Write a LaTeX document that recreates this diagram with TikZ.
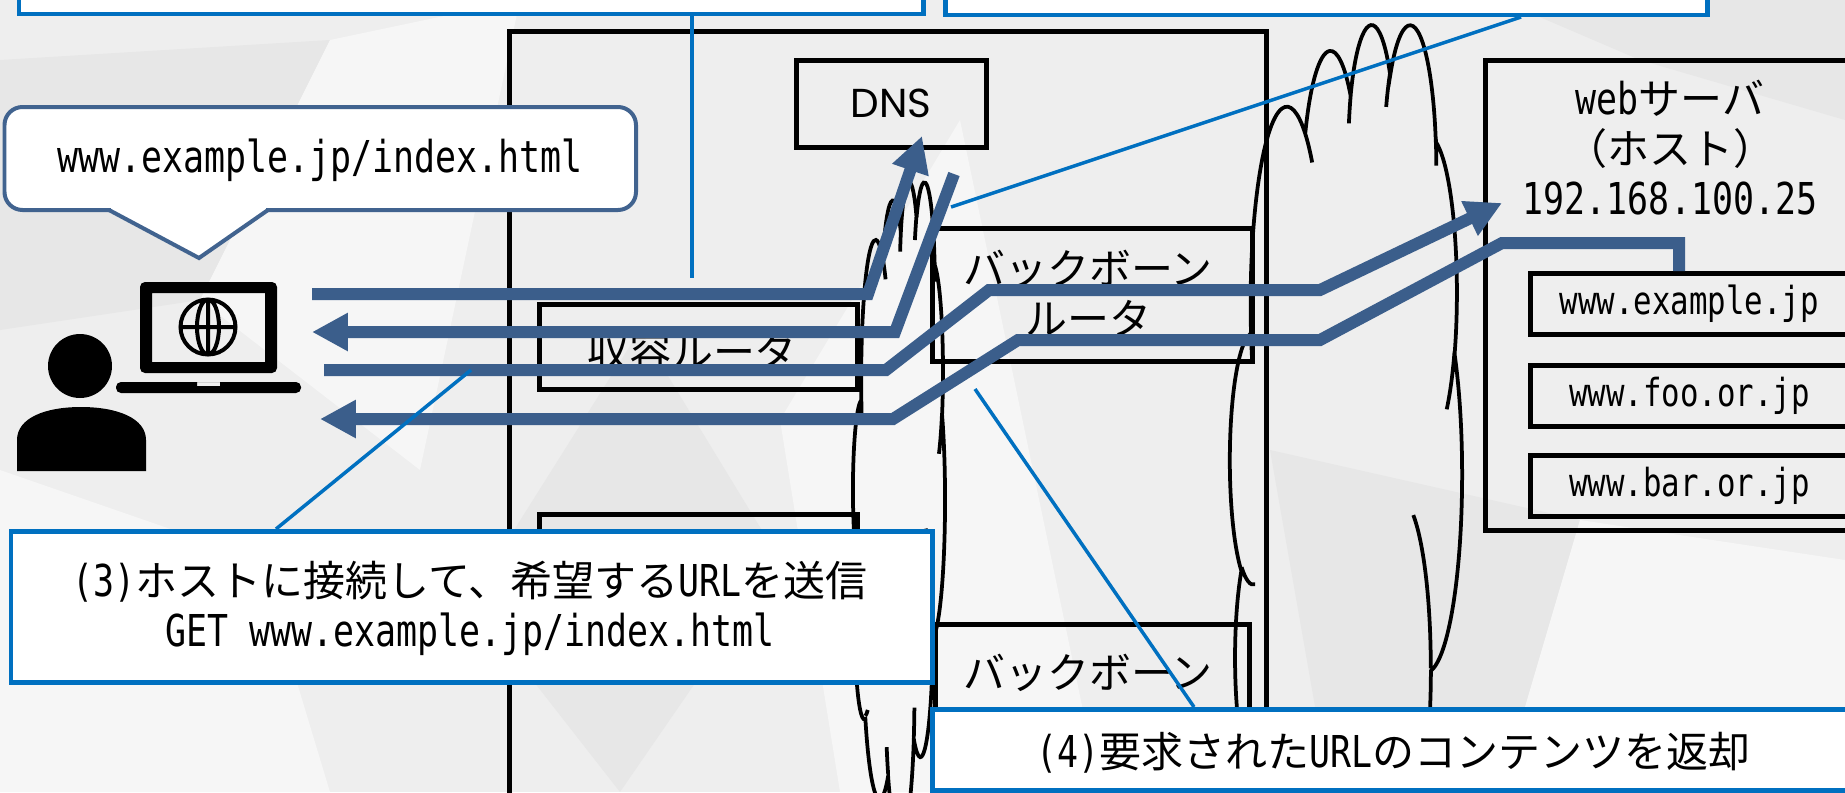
\documentclass[tikz,border=0pt]{standalone}
\usepackage{fontspec}
\setmainfont{Noto Sans CJK JP}
\newfontfamily\hwfont[FakeStretch=0.795]{DejaVu Sans Mono}
\newfontfamily\dnsfont{Poppins}
\usetikzlibrary{arrows.meta}

\definecolor{calloutblue}{HTML}{0070C0}
\definecolor{flowblue}{HTML}{3B5E8B}
\definecolor{bubbleblue}{HTML}{41638F}
\definecolor{bgbase}{HTML}{EEEEEE}
\definecolor{bglight}{HTML}{F6F6F6}
\definecolor{bgdark}{HTML}{E7E7E7}

\newcommand\unitpx{0.02cm}

% visual angle -> parametric angle of an ellipse with radii w, h
\tikzset{declare function={
  vpar(\a,\w,\h)=atan2(\w*sin(\a),\h*cos(\a))+360*round((\a-atan2(\w*sin(\a),\h*cos(\a)))/360);}}

% one arcTo of the cloud: x radius, y radius, start angle, sweep
\newcommand\cloudarc[4]{arc[start angle={vpar(#3,#1,#2)}, end angle={vpar(#3+#4,#1,#2)}, x radius=#1, y radius=#2]}

% cloud outline on a 43.2 x 43.2 frame
\newcommand\cloudoutline{(3.900,14.370)
  \cloudarc{6.753}{9.190}{-190.4875}{123.7805}
  \cloudarc{5.333}{7.267}{-144.1024}{89.9452}
  \cloudarc{4.365}{5.945}{-145.8079}{99.7230}
  \cloudarc{4.857}{6.595}{-130.9861}{117.2417}
  \cloudarc{5.333}{7.273}{-78.7089}{109.0269}
  \cloudarc{6.775}{9.220}{-46.2673}{130.2690}
  \cloudarc{5.785}{7.867}{0.6250}{114.0333}
  \cloudarc{6.752}{9.215}{22.4516}{115.1726}
  \cloudarc{7.720}{10.543}{66.2426}{75.7110}
  \cloudarc{4.360}{5.918}{-274.9421}{146.7356}
  \cloudarc{4.345}{5.945}{-246.8285}{152.5189} -- cycle}
% the short inner strokes
\newcommand\cloudpuffs{%
  (4.693,26.177) \cloudarc{4.345}{5.945}{86.7420}{26.4295}
  (6.928,34.899) \cloudarc{4.360}{5.918}{73.6105}{11.4475}
  (16.478,39.090) \cloudarc{6.752}{9.215}{137.6242}{14.0811}
  (28.827,34.751) \cloudarc{6.752}{9.215}{6.4533}{15.9984}
  (34.129,22.954) \cloudarc{5.785}{7.867}{-70.2924}{70.9174}
  (41.798,15.354) \cloudarc{5.333}{7.273}{30.3180}{27.7515}
  (38.324,5.426) \cloudarc{4.857}{6.595}{-13.7443}{14.8589}
  (29.078,3.952) \cloudarc{4.857}{6.595}{-149.1815}{18.1954}
  (22.141,4.720) \cloudarc{4.365}{5.945}{-163.4943}{17.6864}
  (14.000,5.192) \cloudarc{6.753}{9.190}{-66.7070}{12.3194}
  (4.127,15.789) \cloudarc{6.753}{9.190}{157.6544}{11.8582}}

\begin{document}
\begin{tikzpicture}[x=0.02cm, y=-0.02cm, line join=miter,
  >={Triangle[length=0.72cm, width=0.72cm]},
  box/.style={draw=black, line width=0.09cm, inner sep=0pt},
  note/.style={draw=calloutblue, fill=white, line width=0.09cm, inner sep=0pt},
  leader/.style={draw=calloutblue, line width=0.07cm},
  flow/.style={draw=flowblue, line width=0.24cm},
  bubble/.style={draw=bubbleblue, fill=white, line width=0.08cm},
  cloudline/.style={draw=black, line width=0.075cm},
  jtext/.style={font=\fontsize{23.9}{28.5}\selectfont, align=center, inner sep=0pt}]

\path[use as bounding box, clip] (0,0) rectangle (1845,792);

% faceted backdrop
\fill[bgbase] (0,0) rectangle (1845,792);
\fill[bgdark] (0,60) -- (330,40) -- (200,300) -- (0,330) -- cycle;
\fill[bglight] (330,40) -- (520,0) -- (420,470) -- (200,300) -- cycle;
\fill[bglight] (0,470) -- (260,560) -- (330,792) -- (0,792) -- cycle;
\fill[bgdark] (640,330) -- (780,560) -- (620,792) -- (470,600) -- cycle;
\fill[bglight] (780,420) -- (960,120) -- (1100,792) -- (840,792) -- cycle;
\fill[bgdark] (1270,450) -- (1580,520) -- (1500,792) -- (1330,792) -- cycle;
\fill[bglight] (1580,520) -- (1845,560) -- (1845,792) -- (1500,792) -- cycle;
\fill[bgdark] (1500,0) -- (1845,0) -- (1845,120) -- (1640,60) -- cycle;

% provider network
\node[box, anchor=north west, minimum width=757*\unitpx, minimum height=800*\unitpx] (isp) at (507,29) {};
\node[box, anchor=north west, minimum width=190*\unitpx, minimum height=87*\unitpx,
  font=\dnsfont\fontsize{23}{27}\selectfont] (dns) at (794,58) {DNS};
\node[box, anchor=north west, minimum width=318*\unitpx, minimum height=85*\unitpx] (edge1) at (537,302) {};
\node[jtext] (edge1txt) at (692,352) {収容ルータ};
\node[box, anchor=north west, minimum width=318*\unitpx, minimum height=110*\unitpx] (edge2) at (537,512) {};
\node[box, anchor=north west, minimum width=320*\unitpx, minimum height=133*\unitpx] (core1) at (930,226) {};
\node[jtext] (core1txt) at (1088,293) {バックボーン\\ルータ};
\node[box, anchor=north west, minimum width=314*\unitpx, minimum height=150*\unitpx] (core2) at (933,622) {};
\node[jtext] (core2txt) at (1088,673) {バックボーン};

% web server and its virtual hosts
\node[box, anchor=north west, minimum width=420*\unitpx, minimum height=470*\unitpx] (websv) at (1483,58) {};
\node[jtext] (websvtxt) at (1670,148) {{\hwfont\fontsize{25}{28.5}\selectfont web}サーバ\\（ホスト）\\{\hwfont\fontsize{25}{28.5}\selectfont 192.168.100.25}};
\foreach \y/\name/\host in {271/vh1/www.example.jp, 363/vh2/www.foo.or.jp, 453/vh3/www.bar.or.jp}
  \node[box, anchor=north west, minimum width=318*\unitpx, minimum height=61*\unitpx,
    font=\hwfont\fontsize{22}{25}\selectfont] (\name) at (1528,\y) {\host};

% internet clouds
\begin{scope}[shift={(853,180)}, x=1cm, y=1cm, xscale=92*0.02/43.2, yscale=-656*0.02/43.2]
  \draw[cloudline] \cloudoutline \cloudpuffs;
\end{scope}
\begin{scope}[shift={(1230,22)}, x=1cm, y=1cm, xscale=232*0.02/43.2, yscale=-928*0.02/43.2]
  \draw[cloudline] \cloudoutline \cloudpuffs;
\end{scope}

% user with laptop
\fill (80,366) circle[radius=0.64cm];
\fill (17,471) -- (17,440) .. controls (17,418) and (45,407) .. (81,407)
  .. controls (117,407) and (146,418) .. (146,440) -- (146,471) -- cycle;
\fill[even odd rule] [rounded corners=0.1cm] (140,282) rectangle (277,373)
  [sharp corners] (152,293) rectangle (265,362);
\draw[line width=0.08cm] (208,327) circle[radius=0.55cm]
  (208,327) ellipse[x radius=0.22cm, y radius=0.55cm]
  (181,327) -- (235,327) (208,300) -- (208,354);
\fill[even odd rule] [rounded corners=0.1cm] (116,382) rectangle (301,393)
  [sharp corners] (197,382) rectangle (220,386);

% address balloon
\draw[bubble, rounded corners=0.36cm] (4.5,107) rectangle (636,210);
\fill[white] (111,205) rectangle (266,212.5);
\filldraw[bubble] (109,210) -- (199,258) -- (268,210);
\node[font=\hwfont\fontsize{25}{28}\selectfont] (url) at (320,160) {www.example.jp/index.html};

% packet routes
\path
  (312,294) coordinate (ask)
  (868,294) coordinate (askbend)
  (922,136) coordinate (dnsin)
  (954,174) coordinate (dnsout)
  (895,332) coordinate (ansbend)
  (312,332) coordinate (ansend)
  (324,370) coordinate (get)
  (886,370) coordinate (getbend)
  (989,290) coordinate (getup)
  (1320,290) coordinate (getcore)
  (1502,203) coordinate (getend)
  (1679,243) coordinate (resp)
  (1502,243) coordinate (respbend)
  (1320,340) coordinate (respcore)
  (1018,340) coordinate (respdown)
  (893,419) coordinate (resplow)
  (320,419) coordinate (respend);
\draw[flow, ->] (ask) -- (askbend) -- (dnsin);
\draw[flow, ->] (dnsout) -- (ansbend) -- (ansend);
\draw[flow, ->] (get) -- (getbend) -- (getup) -- (getcore) -- (getend);
\draw[flow, ->] (resp |- vh1.north) -- (resp) -- (respbend) -- (respcore) -- (respdown) -- (resplow) -- (respend);

% callouts
\path
  (692,278) coordinate (pinA)
  (951,207) coordinate (pinB)
  (1521,17) coordinate (tailB)
  (471,370) coordinate (pin3)
  (276,529) coordinate (tail3)
  (975,389) coordinate (pin4)
  (1194,707) coordinate (tail4);
\node[note, anchor=south west, minimum width=904*\unitpx, minimum height=100*\unitpx] (noteA) at (17,16) {};
\node[note, anchor=south west, minimum width=762*\unitpx, minimum height=100*\unitpx] (noteB) at (943,17) {};
\draw[leader] (pinA |- noteA.south) -- (pinA);
\draw[leader] (tailB) -- (pinB);
\draw[leader] (tail3) -- (pin3);
\draw[leader] (tail4) -- (pin4);
\node[note, anchor=north west, minimum width=921*\unitpx, minimum height=151*\unitpx] (note3) at (9,529) {};
\node[jtext] (note3txt) at (470,608) {{\hwfont\fontsize{25}{28.5}\selectfont(3)}ホストに接続して、希望する{\hwfont\fontsize{25}{28.5}\selectfont URL}を送信\\{\hwfont\fontsize{25}{28.5}\selectfont GET www.example.jp/index.html}};
\node[note, anchor=north west, minimum width=1000*\unitpx, minimum height=81*\unitpx] (note4) at (930,707) {};
\node[jtext] (note4txt) at (1393,753) {{\hwfont\fontsize{25}{28.5}\selectfont(4)}要求された{\hwfont\fontsize{25}{28.5}\selectfont URL}のコンテンツを返却};
\end{tikzpicture}
\end{document}
